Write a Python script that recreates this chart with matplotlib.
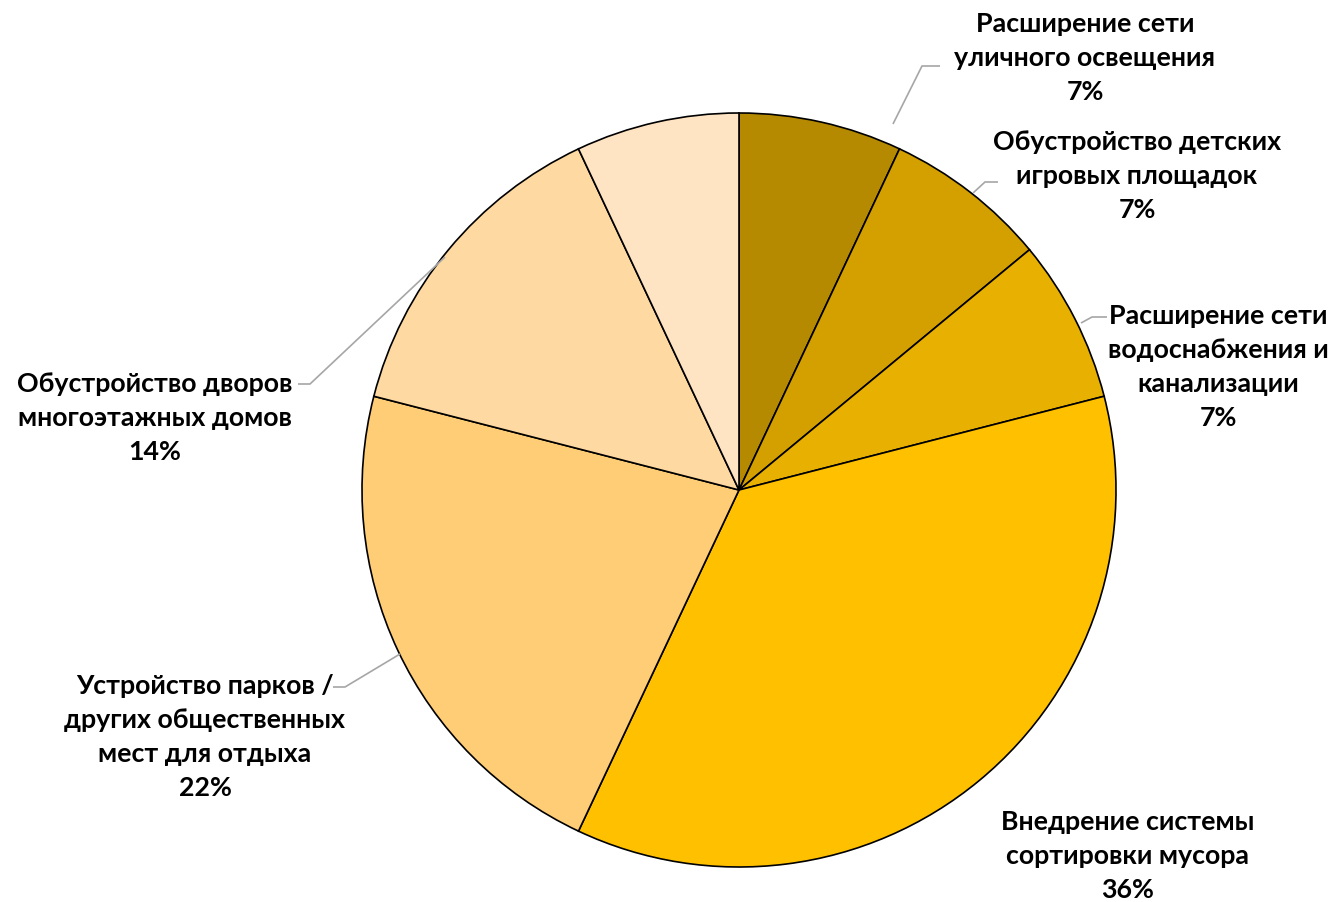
import matplotlib.pyplot as plt

# data
categories = [
    "Расширение сети\nуличного освещения",
    "Обустройство детских\nигровых площадок",
    "Расширение сети\nводоснабжения и\nканализации",
    "Внедрение системы\nсортировки мусора",
    "Устройство парков /\nдругих общественных\nмест для отдыха",
    "Обустройство дворов\nмногоэтажных домов",
    "",
]
shares = [7, 7, 7, 36, 22, 14, 7]
colors = ["#B58A00", "#D3A000", "#E8B000", "#FFC000", "#FFCD75", "#FFD9A2", "#FFE4C4"]

W, H = 1341, 903

fig = plt.figure(figsize=(W / 100, H / 100), dpi=100)
ax = fig.add_axes([0, 0, 1, 1])

# pie, centre and radius in pixel units
ax.pie(shares, colors=colors, startangle=90, counterclock=False,
       center=(739, H - 491), radius=377,
       wedgeprops=dict(edgecolor="black", linewidth=1.2))

ax.set_xlim(0, W)
ax.set_ylim(0, H)
ax.set_aspect("equal")
ax.axis("off")

# label layout: text centre, leader anchor on pie, leader elbow, leader end
layout = [
    ((1085, 58), [(893, 125), (922, 67), (940, 67)]),
    ((1137, 176), [(973, 194), (985, 183), (998, 183)]),
    ((1218, 367), [(1081, 324), (1092, 318), (1107, 318)]),
    ((1128, 856), None),
    ((205, 737), [(400, 655), (345, 688), (333, 688)]),
    ((155, 418), [(445, 258), (310, 385), (298, 385)]),
    (None, None),
]

for name, share, (pos, leader) in zip(categories, shares, layout):
    if pos is None:
        continue
    ax.text(pos[0], H - pos[1], f"{name}\n{share}%", ha="center", va="center",
            fontsize=19.3, fontweight="bold", family=["Lato", "DejaVu Sans"],
            linespacing=1.5, color="black")
    if leader:
        ax.plot([p[0] for p in leader], [H - p[1] for p in leader],
                color="#A6A6A6", linewidth=1.2, solid_capstyle="butt")

fig.savefig("out.png", dpi=100, facecolor="white")
